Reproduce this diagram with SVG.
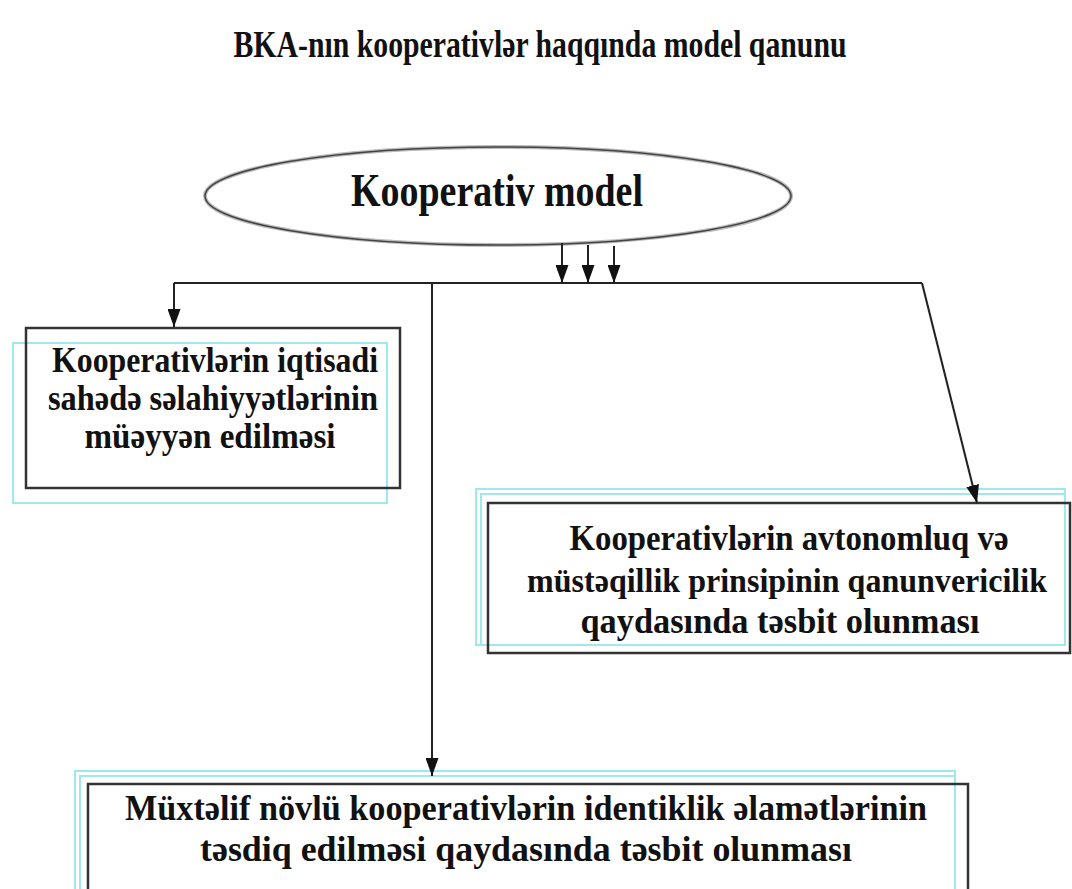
<svg xmlns="http://www.w3.org/2000/svg" width="1072" height="889" viewBox="0 0 1072 889">
<defs>
<marker id="arr" viewBox="0 0 18 13" refX="18" refY="6.5" markerWidth="18" markerHeight="13" orient="auto" markerUnits="userSpaceOnUse">
<path d="M0,0 L18,6.5 L0,13 Z" fill="#111"/>
</marker>
</defs>
<style>
text{font-family:"Liberation Serif","Times New Roman",serif;font-weight:bold;fill:#111;text-anchor:middle}
.box{fill:none;stroke:#333;stroke-width:2.5}
.shadow{fill:none;stroke:#9ee8ee;stroke-width:2}
.conn{fill:none;stroke:#222;stroke-width:2}
.t{font-size:36px}
</style>
<rect width="1072" height="889" fill="#fff"/>
<text x="540" y="57" font-size="38" textLength="613" lengthAdjust="spacingAndGlyphs">BKA-nın kooperativlər haqqında model qanunu</text>

<g id="node-model">
<ellipse cx="498" cy="196" rx="293" ry="49" fill="#fff" stroke="#bbb" stroke-width="4"/>
<ellipse cx="498" cy="196" rx="293" ry="49" fill="none" stroke="#444" stroke-width="1.5"/>
<text x="497" y="206" font-size="46" textLength="292" lengthAdjust="spacingAndGlyphs">Kooperativ model</text>
</g>

<g id="node-iqtisadi">
<rect class="shadow" x="13" y="343" width="374" height="160"/>
<rect class="box" x="26" y="328" width="374" height="160"/>
<text class="t" x="215" y="372" textLength="326" lengthAdjust="spacingAndGlyphs">Kooperativlərin iqtisadi</text>
<text class="t" x="213" y="410" textLength="330" lengthAdjust="spacingAndGlyphs">sahədə səlahiyyətlərinin</text>
<text class="t" x="210" y="448" textLength="251" lengthAdjust="spacingAndGlyphs">müəyyən edilməsi</text>
</g>

<g id="node-avtonomluq">
<rect class="shadow" x="476" y="489" width="589" height="156"/>
<rect class="shadow" x="481" y="494" width="584" height="151"/>
<rect class="box" x="488" y="503" width="582" height="150"/>
<text class="t" x="789" y="550" textLength="439" lengthAdjust="spacingAndGlyphs">Kooperativlərin avtonomluq və</text>
<text x="787" y="592" font-size="33" textLength="520" lengthAdjust="spacingAndGlyphs">müstəqillik prinsipinin qanunvericilik</text>
<text class="t" x="780" y="633" textLength="399" lengthAdjust="spacingAndGlyphs">qaydasında təsbit olunması</text>
</g>

<g id="node-identiklik">
<rect class="shadow" x="75" y="771" width="880" height="140"/>
<rect class="shadow" x="80" y="776" width="875" height="135"/>
<rect class="box" x="88" y="784" width="880" height="130"/>
<text class="t" x="526" y="820" textLength="802" lengthAdjust="spacingAndGlyphs">Müxtəlif növlü kooperativlərin identiklik əlamətlərinin</text>
<text class="t" x="526" y="861" textLength="652" lengthAdjust="spacingAndGlyphs">təsdiq edilməsi qaydasında təsbit olunması</text>
</g>

<g id="connectors">
<line class="conn" x1="562" y1="243" x2="562" y2="283" marker-end="url(#arr)"/>
<line class="conn" x1="588" y1="245" x2="588" y2="283" marker-end="url(#arr)"/>
<line class="conn" x1="614" y1="246" x2="614" y2="283" marker-end="url(#arr)"/>
<polyline class="conn" points="174,283 922,283"/>
<line class="conn" x1="174" y1="283" x2="174" y2="327" marker-end="url(#arr)"/>
<line class="conn" x1="922" y1="283" x2="977" y2="503" marker-end="url(#arr)"/>
<line class="conn" x1="432" y1="283" x2="432" y2="776" marker-end="url(#arr)"/>
</g>
</svg>
